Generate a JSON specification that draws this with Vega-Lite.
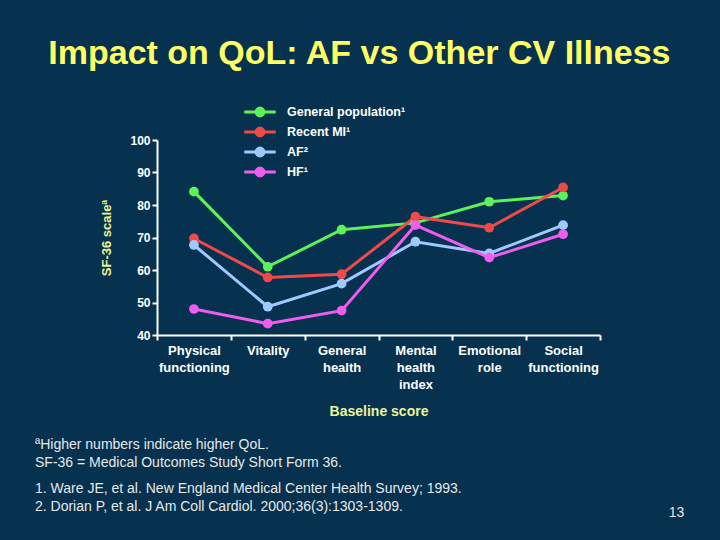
{
  "$schema": "https://vega.github.io/schema/vega-lite/v6.json",
  "background": "#06314f",
  "padding": {"left": 35, "top": 37, "right": 36, "bottom": 21},
  "title": {
    "text": "Impact on QoL: AF vs Other CV Illness",
    "font": "Liberation Sans",
    "fontSize": 34,
    "fontWeight": "bold",
    "color": "#ffff66",
    "anchor": "middle",
    "offset": 34
  },
  "datasets": {
    "scores": [
      {"group": "General population¹", "measure": "Physical|functioning", "score": 84.1},
      {"group": "General population¹", "measure": "Vitality", "score": 61.0},
      {"group": "General population¹", "measure": "General|health", "score": 72.4},
      {"group": "General population¹", "measure": "Mental|health|index", "score": 74.5},
      {"group": "General population¹", "measure": "Emotional|role", "score": 81.0},
      {"group": "General population¹", "measure": "Social|functioning", "score": 82.9},
      {"group": "Recent MI¹", "measure": "Physical|functioning", "score": 69.7},
      {"group": "Recent MI¹", "measure": "Vitality", "score": 57.7},
      {"group": "Recent MI¹", "measure": "General|health", "score": 58.7},
      {"group": "Recent MI¹", "measure": "Mental|health|index", "score": 76.4},
      {"group": "Recent MI¹", "measure": "Emotional|role", "score": 73.0},
      {"group": "Recent MI¹", "measure": "Social|functioning", "score": 85.4},
      {"group": "AF²", "measure": "Physical|functioning", "score": 67.7},
      {"group": "AF²", "measure": "Vitality", "score": 48.7},
      {"group": "AF²", "measure": "General|health", "score": 55.8},
      {"group": "AF²", "measure": "Mental|health|index", "score": 68.7},
      {"group": "AF²", "measure": "Emotional|role", "score": 65.1},
      {"group": "AF²", "measure": "Social|functioning", "score": 73.8},
      {"group": "HF¹", "measure": "Physical|functioning", "score": 48.0},
      {"group": "HF¹", "measure": "Vitality", "score": 43.5},
      {"group": "HF¹", "measure": "General|health", "score": 47.5},
      {"group": "HF¹", "measure": "Mental|health|index", "score": 73.8},
      {"group": "HF¹", "measure": "Emotional|role", "score": 63.8},
      {"group": "HF¹", "measure": "Social|functioning", "score": 71.0}
    ]
  },
  "vconcat": [
    {
      "width": 443,
      "height": 195,
      "data": {"name": "scores"},
      "title": {
        "text": ["ªHigher numbers indicate higher QoL.", "SF-36 = Medical Outcomes Study Short Form 36."],
        "subtitle": ["1.  Ware JE, et al. New England Medical Center Health Survey; 1993.", "2.  Dorian P, et al. J Am Coll Cardiol. 2000;36(3):1303-1309."],
        "orient": "bottom",
        "anchor": "start",
        "frame": "group",
        "dx": -122,
        "offset": -81,
        "font": "Liberation Sans",
        "fontSize": 14,
        "fontWeight": "normal",
        "color": "#e8e8e8",
        "lineHeight": 18,
        "subtitleFont": "Liberation Sans",
        "subtitleFontSize": 14,
        "subtitleColor": "#e8e8e8",
        "subtitleLineHeight": 18,
        "subtitlePadding": 12
      },
      "encoding": {
        "x": {
          "field": "measure",
          "type": "nominal",
          "bandPosition": 0.5,
          "sort": ["Physical|functioning", "Vitality", "General|health", "Mental|health|index", "Emotional|role", "Social|functioning"],
          "scale": {"type": "band", "paddingInner": 0, "paddingOuter": 0},
          "axis": {
            "title": "Baseline score",
            "labelExpr": "split(datum.label, '|')",
            "labelAngle": 0,
            "tickBand": "extent",
            "labelColor": "white",
            "labelFont": "Liberation Sans",
            "labelFontSize": 13,
            "labelFontWeight": "bold",
            "labelLineHeight": 17,
            "labelPadding": 4,
            "labelOverlap": false,
            "labelBound": false,
            "titleColor": "#eaf59a",
            "titleFont": "Liberation Sans",
            "titleFontSize": 14,
            "titleFontWeight": "bold",
            "titlePadding": 13,
            "domainColor": "white",
            "domainWidth": 2,
            "tickColor": "white",
            "tickWidth": 2,
            "tickSize": 5,
            "grid": false
          }
        },
        "color": {
          "field": "group",
          "type": "nominal",
          "scale": {
            "domain": ["General population¹", "Recent MI¹", "AF²", "HF¹"],
            "range": ["#5ef25a", "#ef4a4a", "#9ecbff", "#f05cf0"]
          },
          "legend": {
            "orient": "none",
            "legendX": 96,
            "legendY": -35,
            "title": null,
            "padding": 0,
            "symbolType": "M-3,0H3M0.75,0A0.75,0.75,0,1,1,-0.75,0A0.75,0.75,0,1,1,0.75,0",
            "symbolSize": 110,
            "symbolStrokeWidth": 3,
            "labelColor": "white",
            "labelFont": "Liberation Sans",
            "labelFontSize": 12.5,
            "labelFontWeight": "bold",
            "labelOffset": 20,
            "rowPadding": 0,
            "encode": {
              "symbols": {
                "update": {
                  "fill": {"scale": "color", "field": "value"},
                  "stroke": {"scale": "color", "field": "value"},
                  "opacity": {"value": 1}
                }
              }
            }
          }
        }
      },
      "layer": [
        {
          "mark": {"type": "line", "strokeWidth": 3},
          "encoding": {
            "y": {
              "field": "score",
              "type": "quantitative",
              "scale": {"domain": [40, 100], "nice": false, "zero": false},
              "axis": {
                "orient": "left",
                "values": [40, 50, 60, 70, 80, 90, 100],
                "title": "SF-36 scaleª",
                "titleColor": "#e8f590",
                "titleFont": "Liberation Sans",
                "titleFontSize": 13,
                "titleFontWeight": "bold",
                "titlePadding": 16,
                "labelColor": "white",
                "labelFont": "Liberation Sans",
                "labelFontSize": 12,
                "labelFontWeight": "bold",
                "labelPadding": 2,
                "tickColor": "white",
                "tickSize": 5,
                "tickWidth": 2,
                "domainColor": "white",
                "domainWidth": 2,
                "grid": false
              }
            }
          }
        },
        {
          "mark": {"type": "point", "filled": true, "size": 95, "opacity": 1},
          "encoding": {
            "y": {
              "field": "score",
              "type": "quantitative",
              "scale": {"domain": [40, 100], "nice": false, "zero": false},
              "axis": {
                "orient": "right",
                "title": "13",
                "titleAngle": 0,
                "titleX": 76,
                "titleY": 372,
                "titleAlign": "center",
                "titleBaseline": "middle",
                "titleColor": "#e8e8e8",
                "titleFont": "Liberation Sans",
                "titleFontSize": 14,
                "titleFontWeight": "normal",
                "domain": false,
                "ticks": false,
                "labels": false,
                "grid": false
              }
            }
          }
        }
      ],
      "resolve": {"scale": {"y": "independent"}, "axis": {"y": "independent"}}
    }
  ],
  "config": {
    "view": {"stroke": null},
    "font": "Liberation Sans"
  }
}
